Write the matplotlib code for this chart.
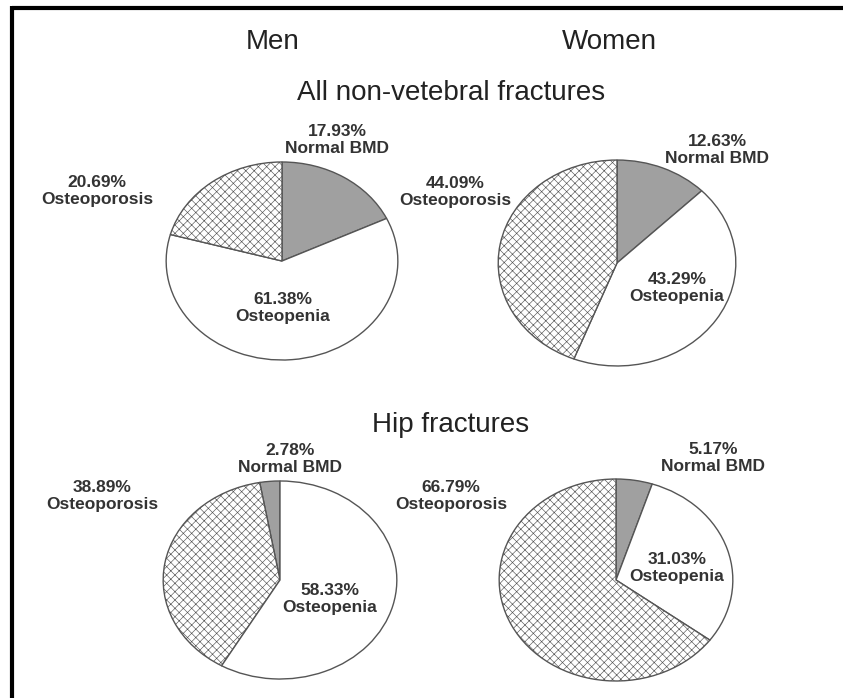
import numpy as np
import matplotlib
matplotlib.use("Agg")
import matplotlib.pyplot as plt

plt.rcParams.update({"font.family": ["Liberation Sans", "DejaVu Sans"],
                     "hatch.linewidth": 0.45})

W, H = 843, 698

sexes = ["Men", "Women"]
groups = ["All non-vetebral fractures", "Hip fractures"]
categories = ["Normal BMD", "Osteopenia", "Osteoporosis"]
men_all = [17.93, 61.38, 20.69]
women_all = [12.63, 43.29, 44.09]
men_hip = [2.78, 58.33, 38.89]
women_hip = [5.17, 31.03, 66.79]

FILL = {"Normal BMD": ("#a0a0a0", None),
        "Osteopenia": ("white", None),
        "Osteoporosis": ("white", "xxxx")}

# pie layout in pixels: centre, radii, wedge order, direction, label centres
PIES = [
    (men_all, (282, 261), (117, 100), [0, 1, 2], False,
     [(337, 140), (283, 308), (97, 191)]),
    (women_all, (617, 263), (120, 104), [0, 1, 2], False,
     [(717, 150), (677, 288), (455, 192)]),
    (men_hip, (280, 580), (118, 100), [0, 2, 1], True,
     [(290, 459), (330, 599), (102, 496)]),
    (women_hip, (616, 580), (118, 102), [0, 1, 2], False,
     [(713, 458), (677, 568), (451, 496)]),
]

fig = plt.figure(figsize=(W / 100, H / 100), dpi=100)

for vals, (cx, cy), (rx, ry), order, ccw, lpos in PIES:
    ax = fig.add_axes([(cx - rx) / W, 1 - (cy + ry) / H, 2 * rx / W, 2 * ry / H])
    v = [vals[i] for i in order]
    cats = [categories[i] for i in order]
    wedges, _ = ax.pie(v, startangle=90, counterclock=ccw,
                       colors=[FILL[c][0] for c in cats],
                       wedgeprops=dict(edgecolor="#555555", linewidth=1.0))
    for w, c in zip(wedges, cats):
        if FILL[c][1]:
            w.set_hatch(FILL[c][1])
    ax.set_aspect("auto")
    ax.set_xlim(-1.01, 1.01)
    ax.set_ylim(-1.01, 1.01)
    ax.axis("off")

# overlay in pixel coordinates for text and the frame
ov = fig.add_axes([0, 0, 1, 1], zorder=5)
ov.set_xlim(0, W); ov.set_ylim(H, 0)
ov.patch.set_visible(False)
ov.axis("off")

ov.text(273, 42, sexes[0], ha="center", va="center", fontsize=20, color="#222")
ov.text(609, 42, sexes[1], ha="center", va="center", fontsize=20, color="#222")
ov.text(451, 93, groups[0], ha="center", va="center", fontsize=20, color="#222")
ov.text(451, 425, groups[1], ha="center", va="center", fontsize=20, color="#222")

for vals, _, _, _, _, lpos in PIES:
    for val, cat, (lx, ly) in zip(vals, categories, lpos):
        ov.text(lx, ly, f"{val:.2f}%\n{cat}", ha="center", va="center",
                fontsize=12.5, fontweight="bold", color="#333", linespacing=1.1)

ov.plot([12, W], [8, 8], color="black", lw=3, solid_capstyle="butt")
ov.plot([12, 12], [6, H], color="black", lw=3, solid_capstyle="butt")

fig.savefig("out.png", dpi=100)
